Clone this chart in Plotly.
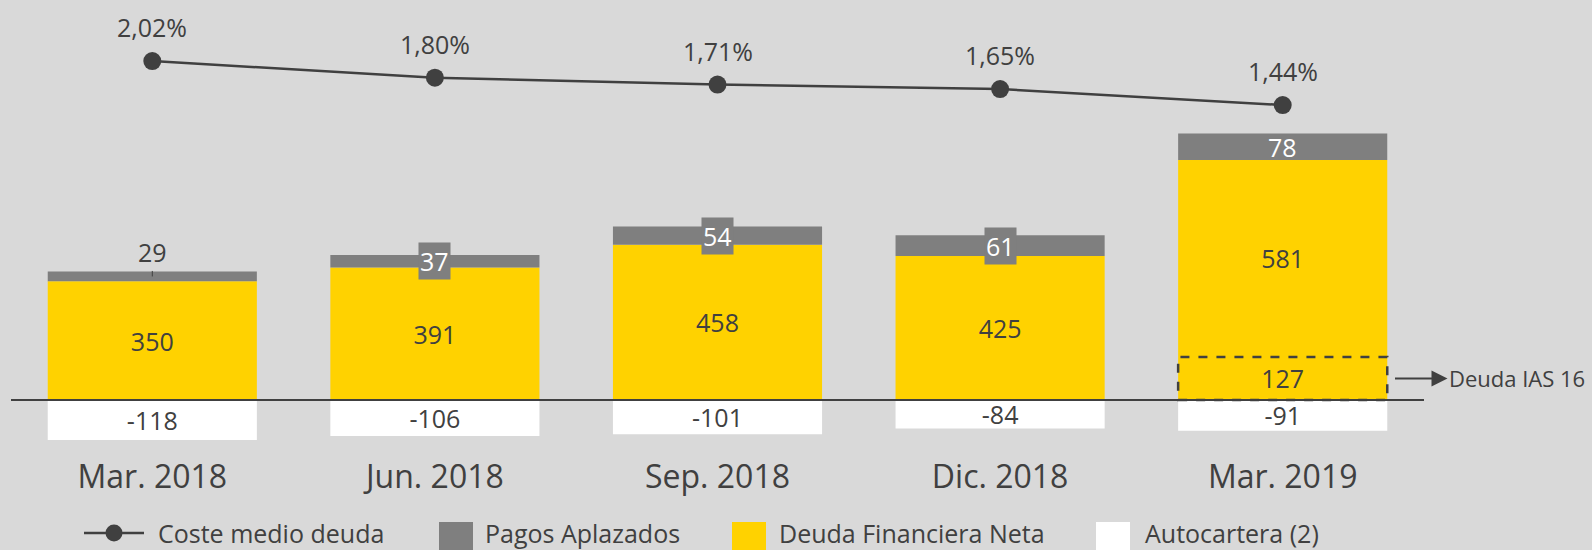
import plotly.graph_objects as go

# data
categories = ["Mar. 2018", "Jun. 2018", "Sep. 2018", "Dic. 2018", "Mar. 2019"]
deuda_neta = [350, 391, 458, 425, 581]
deuda_ias16 = [0, 0, 0, 0, 127]
pagos_aplazados = [29, 37, 54, 61, 78]
autocartera = [-118, -106, -101, -84, -91]
coste_medio = [2.02, 1.80, 1.71, 1.65, 1.44]

BG = "#d9d9d9"
YELLOW = "#ffd200"
GREY = "#7f7f7f"
DARK = "#404040"
FONT = "Open Sans"

W, H = 1592, 550
ML, MR, MT, MB = 11, 168, 0, 95
PW = W - ML - MR
PH = H - MT - MB


def px_x(p):
    return (p - ML) / PW


def px_y(p):
    return (H - MB - p) / PH


def fmt_pct(v):
    return f"{v:.2f}%".replace(".", ",")


fig = go.Figure()

fig.add_trace(go.Bar(
    x=categories, y=deuda_ias16, marker_color=YELLOW, marker_line_width=0,
    text=[str(v) if v else "" for v in deuda_ias16],
    textposition="inside", insidetextanchor="middle", constraintext="none",
    textfont=dict(color=DARK, size=25, family=FONT), showlegend=False,
))
fig.add_trace(go.Bar(
    x=categories, y=deuda_neta, name="Deuda Financiera Neta",
    marker_color=YELLOW, marker_line_width=0,
    text=[str(v) for v in deuda_neta],
    textposition="inside", insidetextanchor="middle", constraintext="none",
    textfont=dict(color=DARK, size=25, family=FONT), showlegend=False,
))
fig.add_trace(go.Bar(
    x=categories, y=pagos_aplazados, name="Pagos Aplazados",
    marker_color=GREY, marker_line_width=0, showlegend=False,
))
fig.add_trace(go.Bar(
    x=categories, y=autocartera, name="Autocartera (2)",
    marker_color="white", marker_line_width=0,
    text=[str(v) for v in autocartera],
    textposition="inside", insidetextanchor="middle", constraintext="none",
    textfont=dict(color=DARK, size=25, family=FONT), showlegend=False,
))
fig.add_trace(go.Scatter(
    x=categories, y=coste_medio, yaxis="y2", name="Coste medio deuda",
    mode="lines+markers", line=dict(color=DARK, width=2.5),
    marker=dict(size=18, color=DARK), showlegend=False,
))

annotations = []
# percent labels over the line
for c, v in zip(categories, coste_medio):
    annotations.append(dict(
        x=c, y=v, yref="y2", text=fmt_pct(v), showarrow=False, yshift=34,
        font=dict(size=25, color=DARK, family=FONT),
    ))

# labels for the grey segments
for i, (c, v) in enumerate(zip(categories, pagos_aplazados)):
    base = deuda_neta[i] + deuda_ias16[i]
    if v < 30:
        # too thin: label above with a leader
        annotations.append(dict(
            x=c, y=base + v / 2, text=str(v), showarrow=True, arrowhead=0,
            arrowwidth=1, arrowcolor=DARK, ax=0, ay=-24, standoff=0,
            font=dict(size=25, color=DARK, family=FONT),
        ))
    elif v < 70:
        annotations.append(dict(
            x=c, y=base + v / 2, text=str(v), showarrow=False,
            bgcolor=GREY, borderpad=1,
            font=dict(size=25, color="white", family=FONT),
        ))
    else:
        annotations.append(dict(
            x=c, y=base + v / 2, text=str(v), showarrow=False,
            font=dict(size=25, color="white", family=FONT),
        ))

# IAS 16 call-out
annotations.append(dict(
    x=px_x(1395), xref="paper", y=deuda_ias16[-1] / 2, yref="y",
    text="Deuda IAS 16", showarrow=True, arrowside="start",
    startarrowhead=2, startarrowsize=1.6, arrowwidth=2, arrowcolor=DARK,
    ax=122, ay=0, font=dict(size=22, color=DARK, family=FONT),
))

shapes = [
    # zero line
    dict(type="line", xref="paper", x0=0, x1=1, yref="y", y0=0, y1=0,
         line=dict(color=DARK, width=2), layer="above"),
    # dashed box around the IAS 16 part
    dict(type="rect", xref="x", yref="y",
         x0=len(categories) - 1 - 0.37, x1=len(categories) - 1 + 0.37,
         y0=0, y1=deuda_ias16[-1],
         line=dict(color=DARK, width=2.5, dash="dash"), layer="above"),
]

# hand-made legend
ly = px_y(533)
shapes += [
    dict(type="line", xref="paper", yref="paper", x0=px_x(84), x1=px_x(144),
         y0=ly, y1=ly, line=dict(color=DARK, width=2.5)),
    dict(type="circle", xref="paper", yref="paper", x0=px_x(105.5), x1=px_x(122.5),
         y0=px_y(541.5), y1=px_y(524.5), fillcolor=DARK, line_width=0),
]
legend_boxes = [(439, GREY), (732, YELLOW), (1096, "white")]
for x0, col in legend_boxes:
    shapes.append(dict(type="rect", xref="paper", yref="paper",
                       x0=px_x(x0), x1=px_x(x0 + 34), y0=px_y(522), y1=px_y(552),
                       fillcolor=col, line_width=0))
legend_texts = [(156, "Coste medio deuda"), (483, "Pagos Aplazados"),
                (777, "Deuda Financiera Neta"), (1143, "Autocartera (2)")]
for x0, t in legend_texts:
    annotations.append(dict(
        x=px_x(x0), y=ly, xref="paper", yref="paper", text=t, showarrow=False,
        xanchor="left", yanchor="middle",
        font=dict(size=25, color=DARK, family=FONT),
    ))

fig.update_layout(
    width=W, height=H, barmode="relative", bargap=0.26,
    paper_bgcolor=BG, plot_bgcolor=BG,
    margin=dict(l=ML, r=MR, t=MT, b=MB),
    font=dict(family=FONT, color=DARK),
    xaxis=dict(showgrid=False, showline=False, ticks="",
               tickfont=dict(size=32, color=DARK, family=FONT)),
    yaxis=dict(range=[-162.2, 1179.9], visible=False, showgrid=False, zeroline=False),
    yaxis2=dict(range=[-3.171, 2.824], overlaying="y", side="right",
                visible=False, showgrid=False, zeroline=False),
    annotations=annotations, shapes=shapes, showlegend=False,
)

fig.write_html("out.html", config={"displayModeBar": False},
               post_script="document.body.style.margin='0px';")
